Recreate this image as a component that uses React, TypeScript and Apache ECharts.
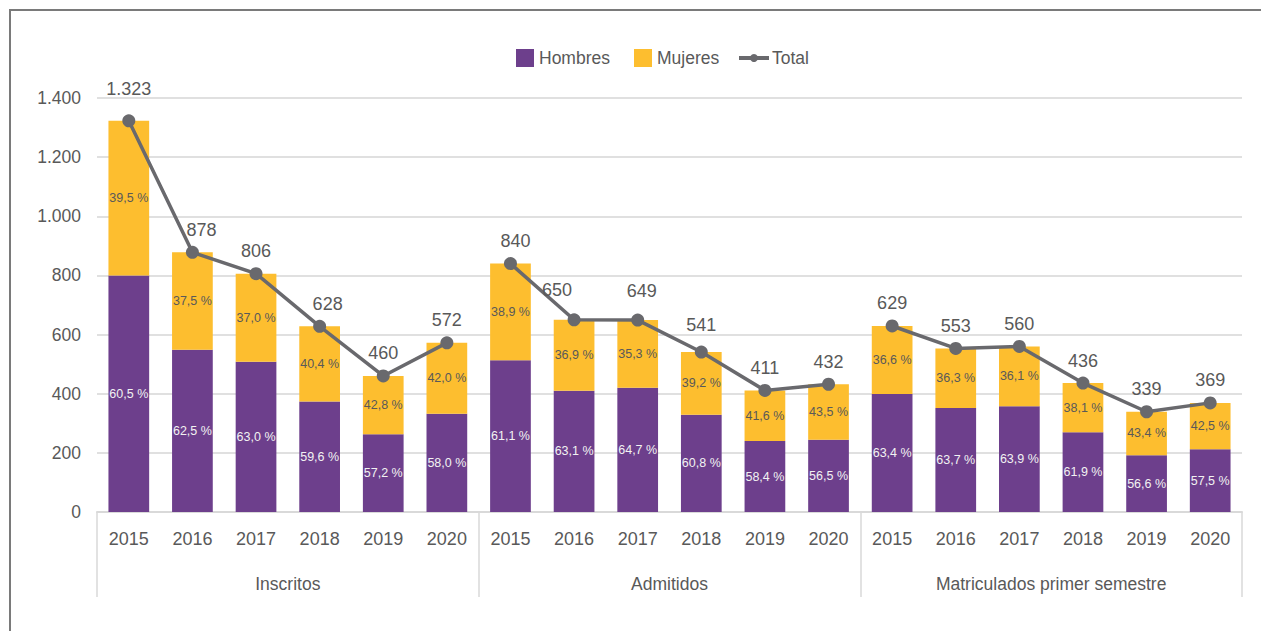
import React, { useEffect, useRef } from 'react';
import * as echarts from 'echarts';

const groups = ['Inscritos', 'Admitidos', 'Matriculados primer semestre'];
const years = ['2015', '2016', '2017', '2018', '2019', '2020'];

const inscritosTotal = [1323, 878, 806, 628, 460, 572];
const admitidosTotal = [840, 650, 649, 541, 411, 432];
const matriculadosTotal = [629, 553, 560, 436, 339, 369];

const hombres = [800, 549, 508, 374, 263, 332, 513, 410, 420, 329, 240, 244, 399, 352, 358, 270, 192, 212];
const mujeres = [523, 329, 298, 254, 197, 240, 327, 240, 229, 212, 171, 188, 230, 201, 202, 166, 147, 157];

const hombresPct = [60.5, 62.5, 63.0, 59.6, 57.2, 58.0, 61.1, 63.1, 64.7, 60.8, 58.4, 56.5, 63.4, 63.7, 63.9, 61.9, 56.6, 57.5];
const mujeresPct = [39.5, 37.5, 37.0, 40.4, 42.8, 42.0, 38.9, 36.9, 35.3, 39.2, 41.6, 43.5, 36.6, 36.3, 36.1, 38.1, 43.4, 42.5];

const yMin = 0;
const yMax = 1400;
const yStep = 200;

// small label nudges [dx, dy] for total labels, by category index
const totalLabelNudge: Record<number, [number, number]> = {
  0: [0, -9],
  1: [9, 0],
  3: [8, 0],
  6: [5, 0],
  7: [-17, -7],
  8: [4, -7],
  9: [0, -5],
};

const FONT = "'Liberation Sans', Arial, Helvetica, sans-serif";
const GRAY = '#595959';
const PURPLE = '#6d3f8c';
const YELLOW = '#fdbe2f';
const LINE = '#69696d';

const fmtThousands = (n: number) => String(n).replace(/\B(?=(\d{3})+(?!\d))/g, '.');
const fmtPct = (p: number) => `${p.toFixed(1).replace('.', ',')} %`;

const categories = groups.flatMap(() => years);
const groupTotals = [inscritosTotal, admitidosTotal, matriculadosTotal];

export default function App() {
  const ref = useRef<HTMLDivElement>(null);

  useEffect(() => {
    if (!ref.current) return;
    const chart = echarts.init(ref.current, undefined, { renderer: 'svg' });

    const totalSeries = groupTotals.map((tot, g) => {
      const data = categories.map((_, i) => {
        const gi = Math.floor(i / years.length);
        if (gi !== g) return '-';
        const v = tot[i % years.length];
        const nudge = totalLabelNudge[i];
        if (nudge) {
          return { value: v, label: { offset: nudge } };
        }
        return v;
      });
      return {
        name: 'Total',
        type: 'line',
        xAxisIndex: 0,
        data,
        z: 5,
        symbol: 'circle',
        symbolSize: 13,
        itemStyle: { color: LINE },
        lineStyle: { color: LINE, width: 3.5 },
        connectNulls: false,
        label: {
          show: true,
          position: 'top',
          distance: 7,
          fontFamily: FONT,
          fontSize: 18,
          color: GRAY,
          formatter: (p: any) => fmtThousands(p.value),
        },
      };
    });

    const legendText = { fontFamily: FONT, fontSize: 17.5, color: GRAY };

    const option = {
      animation: false,
      backgroundColor: '#ffffff',
      textStyle: { fontFamily: FONT },
      graphic: [
        {
          type: 'rect',
          shape: { x: 10, y: 10, width: 1400, height: 1000 },
          style: { fill: 'none', stroke: '#7a7a7a', lineWidth: 2 },
          silent: true,
          z: -10,
        },
      ],
      legend: [
        {
          data: ['Hombres'],
          left: 511,
          top: 44,
          itemWidth: 18,
          itemHeight: 18,
          icon: 'rect',
          textStyle: legendText,
        },
        {
          data: ['Mujeres'],
          left: 629,
          top: 44,
          itemWidth: 18,
          itemHeight: 18,
          icon: 'rect',
          textStyle: legendText,
        },
        {
          data: ['Total'],
          left: 732,
          top: 44,
          itemWidth: 30,
          itemHeight: 10,
          lineStyle: { width: 4 },
          textStyle: { ...legendText, padding: [0, 0, 0, -2] },
        },
      ],
      grid: { left: 97, right: 19, top: 98, bottom: 119 },
      xAxis: [
        {
          type: 'category',
          data: categories,
          position: 'bottom',
          axisLine: { show: true, lineStyle: { color: '#d9d9d9', width: 2 } },
          axisTick: { show: false },
          axisLabel: { interval: 0, margin: 18, fontFamily: FONT, fontSize: 18, color: GRAY, hideOverlap: false },
        },
        {
          type: 'category',
          data: groups,
          position: 'bottom',
          axisLine: { show: false },
          axisTick: { show: true, length: 85, lineStyle: { color: '#d9d9d9', width: 1.5 } },
          axisLabel: { interval: 0, margin: 63, fontFamily: FONT, fontSize: 17.5, color: GRAY },
        },
      ],
      yAxis: {
        type: 'value',
        min: yMin,
        max: yMax,
        interval: yStep,
        axisLine: { show: false },
        axisTick: { show: false },
        splitLine: { lineStyle: { color: '#d6d6d6', width: 1.5 } },
        axisLabel: {
          margin: 16,
          fontFamily: FONT,
          fontSize: 17.5,
          color: GRAY,
          formatter: (v: number) => fmtThousands(v),
        },
      },
      series: [
        {
          name: 'Hombres',
          type: 'bar',
          stack: 'total',
          xAxisIndex: 0,
          barWidth: '64%',
          data: hombres,
          itemStyle: { color: PURPLE },
          label: {
            show: true,
            position: 'inside',
            fontFamily: FONT,
            fontSize: 12.5,
            color: '#f2f2f2',
            formatter: (p: any) => fmtPct(hombresPct[p.dataIndex]),
          },
        },
        {
          name: 'Mujeres',
          type: 'bar',
          stack: 'total',
          xAxisIndex: 0,
          barWidth: '64%',
          data: mujeres,
          itemStyle: { color: YELLOW },
          label: {
            show: true,
            position: 'inside',
            fontFamily: FONT,
            fontSize: 12.5,
            color: GRAY,
            formatter: (p: any) => fmtPct(mujeresPct[p.dataIndex]),
          },
        },
        ...totalSeries,
      ],
    };

    chart.setOption(option as any);
    return () => chart.dispose();
  }, []);

  return (
    <div
      ref={ref}
      style={{ position: 'fixed', left: 0, top: 0, width: 1261, height: 631, background: '#fff' }}
    />
  );
}
